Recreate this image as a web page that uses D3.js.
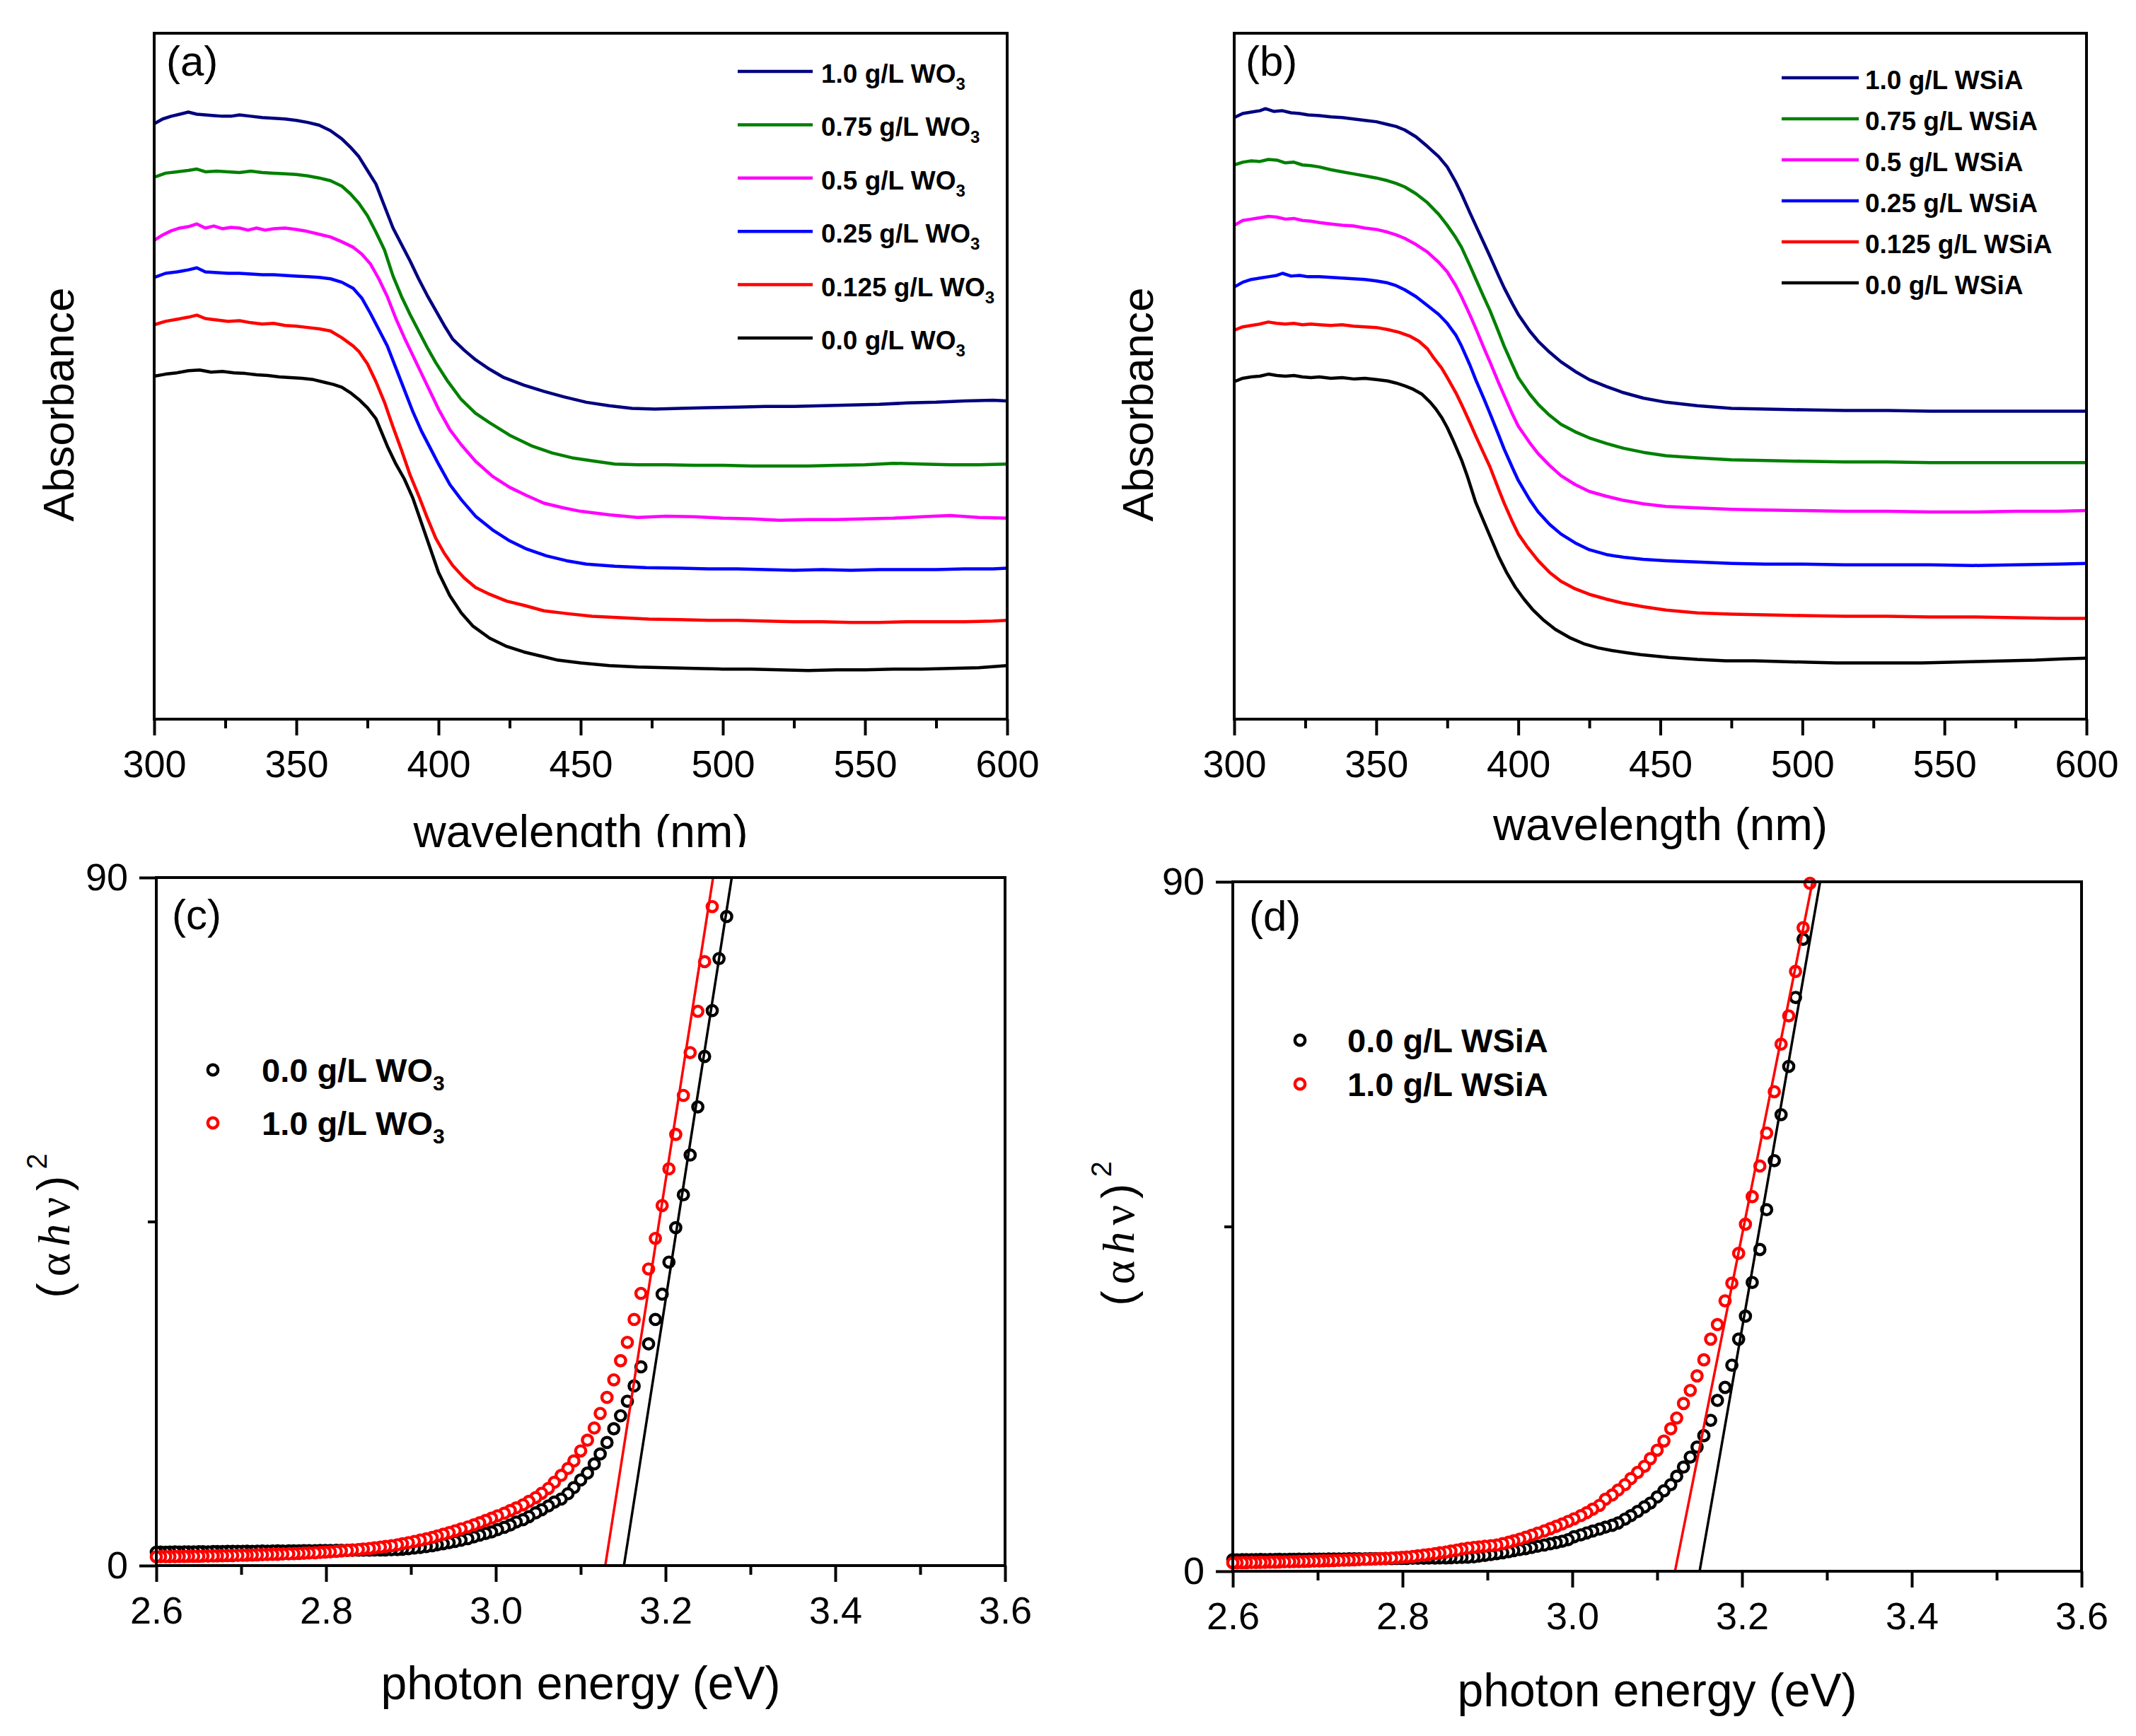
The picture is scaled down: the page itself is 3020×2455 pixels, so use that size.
<!DOCTYPE html>
<html>
<head>
<meta charset="utf-8">
<script src="https://cdn.jsdelivr.net/npm/d3@7"></script>
<style>
  body { margin: 0; background: #fff; }
  svg { display: block; font-family: "Liberation Sans", Arial, sans-serif; }
  .frame { fill: none; stroke: #000; stroke-width: 4; }
  .axis .domain { display: none; }
  .axis line { stroke: #000; stroke-width: 4; }
  .axis text { font-size: 54px; fill: #000; font-family: "Liberation Sans", Arial, sans-serif; }
  .spec { fill: none; stroke-width: 4.5; stroke-linejoin: round; }
  .fit { fill: none; stroke-width: 3.5; }
  .title { font-size: 64px; fill: #000; }
  .tag { font-size: 60px; fill: #000; }
  .leg { font-weight: bold; fill: #000; }
</style>
</head>
<body>
<svg id="fig"></svg>
<script>
// ---- tick values ----
const nmTicks = [300, 350, 400, 450, 500, 550, 600];
const nmMinor = [325, 375, 425, 475, 525, 575];
const evTicks = [2.6, 2.8, 3.0, 3.2, 3.4, 3.6];
const evMinor = [2.7, 2.9, 3.1, 3.3, 3.5];
const taucTicks = [0, 90];
const taucMinor = [45];

// ---- legend labels (top to bottom) ----
const loadings = ['1.0', '0.75', '0.5', '0.25', '0.125', '0.0'];
const taucLoadings = ['0.0', '1.0'];
const lineColors = ['#000080', '#008000', '#ff00ff', '#0000ff', '#ff0000', '#000000'];
const markerColors = ['#000000', '#ff0000'];

// ---- (a) absorbance spectra, WO3 loadings: [wavelength nm, absorbance a.u.] ----
const wo3_1_0 = [[300,.868],[303,.875],[306,.879],[309,.882],[312,.885],[315,.882],[318,.881],[321,.880],[324,.879],[327,.879],[330,.881],[334,.879],[338,.877],[342,.876],[346,.875],[350,.873],[354,.870],[358,.866],[362,.858],[366,.846],[369,.834],[372,.820],[375,.800],[378,.780],[381,.748],[384,.716],[387,.692],[390,.668],[393,.642],[396,.618],[399,.596],[402,.574],[405,.554],[409,.538],[413,.524],[418,.510],[423,.498],[430,.487],[437,.478],[444,.470],[452,.462],[460,.457],[468,.453],[476,.452],[485,.453],[495,.454],[505,.455],[515,.456],[525,.456],[535,.457],[545,.458],[555,.459],[565,.461],[575,.462],[585,.464],[595,.465],[600,.464]];
const wo3_0_75 = [[300,.790],[304,.796],[308,.798],[312,.800],[315,.802],[318,.798],[322,.799],[326,.798],[330,.797],[334,.799],[338,.797],[342,.796],[346,.795],[350,.794],[354,.792],[358,.789],[362,.785],[366,.777],[369,.766],[372,.752],[375,.734],[378,.710],[381,.684],[384,.646],[387,.616],[390,.590],[393,.566],[396,.542],[399,.520],[403,.494],[408,.466],[413,.446],[418,.432],[425,.414],[433,.398],[440,.388],[447,.381],[455,.376],[462,.372],[470,.371],[480,.371],[490,.370],[500,.370],[510,.369],[520,.369],[530,.369],[540,.370],[550,.371],[560,.373],[570,.372],[580,.371],[590,.371],[600,.372]];
const wo3_0_5 = [[300,.698],[303,.706],[306,.712],[309,.716],[312,.718],[315,.722],[318,.716],[321,.719],[324,.715],[327,.717],[330,.716],[333,.713],[336,.716],[339,.713],[342,.715],[346,.716],[350,.714],[354,.711],[358,.707],[362,.703],[366,.696],[370,.688],[373,.678],[376,.664],[379,.642],[382,.616],[385,.584],[388,.556],[391,.530],[394,.504],[397,.478],[400,.452],[404,.422],[408,.400],[413,.376],[419,.354],[425,.338],[431,.326],[437,.315],[444,.308],[450,.303],[460,.298],[470,.294],[480,.296],[490,.295],[500,.293],[510,.292],[520,.290],[530,.291],[540,.291],[550,.292],[560,.293],[570,.295],[580,.297],[590,.294],[600,.293]];
const wo3_0_25 = [[300,.644],[304,.650],[308,.652],[312,.655],[315,.658],[318,.652],[322,.651],[326,.650],[330,.650],[334,.649],[338,.648],[342,.648],[346,.647],[350,.646],[354,.645],[358,.644],[362,.642],[366,.637],[370,.628],[373,.614],[376,.592],[379,.568],[382,.544],[385,.512],[388,.480],[391,.448],[394,.420],[397,.396],[400,.372],[404,.342],[408,.320],[413,.296],[419,.276],[425,.260],[431,.248],[438,.238],[445,.231],[452,.226],[462,.223],[473,.221],[485,.220],[495,.219],[505,.219],[515,.218],[525,.217],[535,.218],[545,.217],[555,.218],[565,.218],[575,.218],[585,.219],[595,.219],[600,.220]];
const wo3_0_125 = [[300,.575],[304,.580],[308,.583],[312,.586],[315,.589],[318,.584],[322,.582],[326,.580],[330,.581],[334,.578],[338,.576],[342,.577],[346,.574],[350,.573],[354,.571],[358,.569],[362,.566],[366,.556],[370,.544],[372,.536],[375,.518],[378,.492],[381,.462],[384,.426],[387,.392],[390,.356],[393,.326],[396,.294],[399,.264],[402,.242],[405,.224],[409,.206],[413,.192],[418,.182],[424,.172],[430,.166],[437,.158],[445,.154],[454,.150],[464,.148],[474,.146],[485,.145],[495,.144],[505,.144],[515,.143],[525,.142],[535,.142],[545,.141],[555,.141],[565,.142],[575,.142],[585,.142],[595,.143],[600,.144]];
const wo3_0_0 = [[300,.500],[304,.503],[308,.505],[312,.508],[316,.509],[320,.506],[324,.507],[328,.505],[332,.504],[336,.502],[340,.501],[344,.499],[348,.498],[352,.497],[356,.495],[360,.491],[363,.488],[366,.484],[369,.476],[372,.466],[375,.454],[378,.438],[382,.398],[385,.372],[388,.350],[391,.322],[394,.286],[397,.250],[400,.214],[404,.180],[408,.155],[412,.136],[418,.118],[424,.106],[430,.098],[436,.092],[442,.086],[450,.082],[460,.078],[470,.076],[480,.075],[490,.074],[500,.073],[510,.073],[520,.072],[530,.071],[540,.072],[550,.072],[560,.073],[570,.073],[580,.074],[590,.075],[600,.078]];

// ---- (b) absorbance spectra, WSiA loadings ----
const wsia_1_0 = [[300,.877],[303,.883],[306,.885],[309,.887],[311,.890],[314,.886],[317,.887],[320,.884],[323,.883],[326,.881],[330,.880],[334,.878],[338,.877],[342,.875],[346,.873],[350,.871],[354,.867],[357,.864],[360,.859],[364,.849],[368,.835],[372,.820],[375,.805],[378,.783],[380,.766],[383,.738],[385,.720],[388,.693],[390,.675],[393,.647],[395,.629],[398,.605],[400,.590],[404,.566],[407,.551],[411,.535],[415,.521],[420,.507],[425,.495],[431,.485],[437,.476],[444,.468],[452,.462],[463,.457],[475,.453],[487,.452],[500,.451],[515,.450],[530,.450],[545,.449],[560,.449],[575,.449],[590,.449],[600,.449]];
const wsia_0_75 = [[300,.808],[303,.812],[306,.814],[309,.813],[312,.816],[315,.815],[318,.811],[321,.812],[324,.808],[327,.807],[330,.805],[334,.801],[338,.798],[342,.795],[346,.792],[350,.789],[354,.785],[357,.781],[360,.776],[364,.766],[368,.753],[372,.736],[375,.720],[378,.702],[380,.688],[383,.661],[385,.642],[388,.614],[390,.596],[393,.565],[395,.544],[398,.516],[400,.498],[404,.474],[407,.459],[411,.443],[415,.430],[420,.419],[425,.410],[431,.402],[437,.395],[444,.389],[452,.384],[463,.381],[475,.378],[487,.377],[500,.376],[515,.375],[530,.375],[545,.374],[560,.374],[575,.374],[590,.374],[600,.374]];
const wsia_0_5 = [[300,.720],[303,.727],[306,.729],[309,.731],[312,.733],[315,.732],[318,.729],[321,.730],[324,.727],[327,.726],[330,.724],[334,.722],[338,.720],[342,.719],[346,.716],[350,.714],[354,.710],[357,.706],[360,.701],[364,.692],[368,.681],[372,.666],[375,.652],[378,.632],[380,.616],[383,.589],[385,.570],[388,.540],[390,.521],[393,.491],[395,.472],[398,.444],[400,.427],[404,.403],[407,.387],[411,.370],[415,.355],[420,.342],[425,.332],[431,.325],[437,.319],[444,.314],[452,.310],[463,.308],[475,.306],[487,.305],[500,.304],[515,.303],[530,.303],[545,.302],[560,.302],[575,.303],[590,.303],[600,.304]];
const wsia_0_25 = [[300,.630],[303,.637],[306,.641],[309,.643],[312,.645],[315,.647],[317,.650],[320,.646],[323,.647],[326,.645],[330,.645],[334,.644],[338,.643],[342,.642],[346,.641],[350,.639],[354,.636],[357,.632],[360,.626],[364,.616],[368,.603],[372,.590],[375,.577],[378,.560],[380,.544],[383,.516],[385,.495],[388,.466],[390,.446],[393,.415],[395,.394],[398,.366],[400,.348],[404,.320],[407,.302],[411,.284],[415,.270],[420,.257],[425,.247],[431,.240],[437,.236],[444,.233],[452,.231],[463,.229],[475,.227],[487,.226],[500,.226],[515,.225],[530,.225],[545,.225],[560,.224],[575,.225],[590,.226],[600,.227]];
const wsia_0_125 = [[300,.567],[303,.572],[306,.574],[309,.576],[312,.579],[315,.577],[318,.576],[321,.577],[324,.575],[327,.576],[330,.575],[334,.574],[338,.575],[342,.573],[346,.572],[350,.571],[354,.568],[358,.564],[362,.558],[365,.551],[368,.540],[370,.528],[373,.512],[375,.498],[378,.476],[380,.459],[383,.432],[385,.413],[388,.386],[390,.368],[393,.336],[395,.315],[398,.287],[400,.270],[403,.252],[407,.231],[411,.214],[415,.201],[420,.190],[425,.182],[431,.175],[437,.169],[444,.164],[452,.159],[463,.155],[475,.153],[487,.152],[500,.151],[515,.150],[530,.150],[545,.149],[560,.149],[575,.148],[590,.147],[600,.147]];
const wsia_0_0 = [[300,.492],[303,.497],[306,.499],[309,.500],[312,.503],[315,.501],[318,.500],[321,.501],[324,.499],[327,.498],[330,.499],[334,.497],[338,.498],[342,.496],[346,.497],[350,.495],[354,.493],[357,.490],[360,.486],[363,.481],[366,.474],[369,.462],[371,.452],[373,.440],[375,.425],[377,.407],[380,.378],[382,.355],[385,.316],[389,.277],[393,.238],[396,.213],[399,.192],[402,.175],[405,.160],[409,.144],[413,.131],[418,.119],[423,.110],[428,.104],[433,.100],[438,.097],[443,.094],[448,.092],[453,.090],[463,.087],[473,.085],[483,.085],[492,.084],[502,.083],[512,.082],[522,.082],[532,.082],[542,.082],[552,.083],[562,.084],[572,.085],[582,.086],[592,.088],[600,.089]];

// ---- (c)/(d) Tauc plots: photon energy (eV) of each sample, and (alpha h nu)^2 values ----
const photonEnergy = [2.600,2.605,2.611,2.616,2.622,2.627,2.633,2.638,2.644,2.650,2.655,2.661,2.667,2.672,2.678,2.684,2.690,2.696,2.702,2.707,2.713,2.719,2.725,2.731,2.737,2.743,2.749,2.756,2.762,2.768,2.774,2.780,2.787,2.793,2.799,2.805,2.812,2.818,2.825,2.831,2.838,2.844,2.851,2.857,2.864,2.870,2.877,2.884,2.890,2.897,2.904,2.911,2.918,2.925,2.931,2.938,2.945,2.952,2.959,2.967,2.974,2.981,2.988,2.995,3.002,3.010,3.017,3.024,3.032,3.039,3.047,3.054,3.062,3.069,3.077,3.085,3.092,3.100,3.108,3.116,3.123,3.131,3.139,3.147,3.155,3.163,3.171,3.180,3.188,3.196,3.204,3.212,3.221,3.229,3.238,3.246,3.255,3.263,3.272,3.280,3.289];

const taucWo3_0_0 = [1.75,1.76,1.74,1.77,1.78,1.76,1.79,1.80,1.79,1.81,1.82,1.80,1.83,1.84,1.83,1.85,1.86,1.85,1.87,1.88,1.87,1.89,1.90,1.89,1.91,1.92,1.91,1.93,1.94,1.93,1.95,1.96,1.95,1.97,1.98,1.97,1.99,2.00,1.99,2.01,2.02,2.02,2.03,2.04,2.05,2.06,2.08,
  2.10,2.15,2.22,2.30,2.38,2.48,2.60,2.72,2.86,3.00,3.15,3.32,3.52,3.75,3.98,4.20,4.40,
  4.7,5.0,5.3,5.7,6.0,6.4,6.9,7.3,7.8,8.3,8.7,9.4,10.2,11.2,12.1,13.3,14.6,16.1,17.9,19.6,21.5,23.5,26.0,29.0,32.2,35.5,39.7,44.2,48.5,53.7,60.0,66.6,72.6,79.4,84.9];
const taucWo3_1_0 = [1.15,1.16,1.17,1.17,1.18,1.19,1.20,1.21,1.22,1.22,1.24,1.25,1.26,1.27,1.29,1.30,1.31,1.33,1.35,1.36,1.38,1.40,1.42,1.44,1.46,1.48,1.51,1.53,1.56,1.59,1.62,1.65,1.68,1.72,1.76,1.80,1.86,
  1.92,1.98,2.04,2.10,2.17,2.24,2.32,2.41,2.50,2.60,2.72,
  2.86,3.00,3.16,3.33,3.50,3.68,3.88,4.10,4.32,4.55,4.80,5.06,5.32,5.60,5.90,6.20,
  6.50,6.85,7.20,7.55,7.95,8.40,8.90,9.45,10.1,10.9,11.8,12.7,13.7,15.0,16.4,18.0,19.9,22.0,24.3,26.8,29.2,32.2,35.6,38.8,42.8,47.1,51.9,56.4,61.5,67.1,72.5,79.0,86.2];
const taucWsia_0_0 = [1.50,1.49,1.51,1.50,1.52,1.51,1.53,1.52,1.54,1.53,1.55,1.54,1.56,1.55,1.57,1.56,1.58,1.57,1.59,1.58,1.60,1.60,1.61,1.61,1.62,1.62,1.63,1.63,1.64,1.64,1.65,1.66,1.66,1.67,1.68,1.68,1.69,1.70,1.71,1.72,1.73,1.74,1.75,1.77,1.79,1.81,1.84,
  1.88,1.97,2.07,2.18,2.30,2.42,2.55,2.69,2.82,2.95,3.10,3.26,3.42,3.58,3.74,3.92,4.12,
  4.5,4.75,5.0,5.25,5.5,5.75,6.0,6.3,6.8,7.25,7.8,8.4,8.9,9.7,10.5,11.3,12.4,13.6,14.9,16.2,17.7,19.7,22.3,24.0,26.9,30.3,33.3,37.7,42.0,47.2,53.6,59.6,65.9,74.9,82.5];
const taucWsia_1_0 = [1.10,1.11,1.12,1.13,1.14,1.15,1.16,1.17,1.19,1.20,1.21,1.23,1.24,1.26,1.27,1.29,1.31,1.32,1.34,1.36,1.38,1.40,1.42,1.44,1.47,1.49,1.52,1.55,1.58,1.61,1.64,1.68,1.72,1.76,1.80,1.86,1.93,2.01,2.10,2.19,2.29,2.40,2.51,2.63,2.76,2.89,3.02,
  3.11,3.18,3.26,3.34,3.42,3.60,3.79,3.98,4.19,4.44,4.70,4.97,5.26,5.56,5.86,6.17,6.50,
  6.85,7.25,7.65,8.1,8.6,9.4,9.95,10.6,11.3,12.1,12.9,13.7,14.7,15.8,17.0,18.6,20.0,21.9,23.6,25.5,27.6,30.3,32.2,35.3,37.6,41.5,45.3,48.9,52.9,57.2,62.6,68.8,72.5,78.3,84.0,89.8];

// ---- linear fits: [energy, value] end points ----
const fitWo3_0_0 = [[3.151, 0], [3.278, 90]];
const fitWo3_1_0 = [[3.129, 0], [3.256, 90]];
const fitWsia_0_0 = [[3.150, 0], [3.292, 90]];
const fitWsia_1_0 = [[3.121, 0], [3.283, 90]];

const W = 3020, H = 2455;
const MARK_R = 7.2, MARK_W = 4.4;
const svg = d3.select('#fig').attr('width', W).attr('height', H).attr('viewBox', `0 0 ${W} ${H}`);

svg.append('defs').append('clipPath').attr('id', 'clipA')
  .append('rect').attr('x', 0).attr('y', 0).attr('width', 1560).attr('height', 1198);

function bottomAxis(g, x, h, major, minor, fmt) {
  g.append('g').attr('class', 'axis').attr('transform', `translate(0,${h})`)
    .call(d3.axisBottom(x).tickValues(major).tickSize(23).tickFormat(fmt))
    .call(a => a.selectAll('text').attr('y', 82).attr('dy', null));
  g.append('g').attr('class', 'axis').attr('transform', `translate(0,${h})`)
    .call(d3.axisBottom(x).tickValues(minor).tickSize(13).tickFormat(''));
}

function rotatedTitle(cx, cy, size) {
  return svg.append('text').attr('class', 'title')
    .attr('transform', `translate(${cx},${cy}) rotate(-90)`)
    .attr('text-anchor', 'middle').style('font-size', size + 'px');
}

function legendLabel(sel, text, sub, subSize, subDy) {
  sel.append('tspan').text(text);
  if (sub) sel.append('tspan').style('font-size', subSize + 'px').attr('dy', subDy).text(sub);
}

/* Absorbance spectra panel */
function spectraPanel(p) {
  const w = p.right - p.left, h = p.bottom - p.top;
  const g = svg.append('g').attr('transform', `translate(${p.left},${p.top})`);
  const x = d3.scaleLinear().domain([300, 600]).range([0, w]);
  const y = d3.scaleLinear().domain([0, 1]).range([h, 0]);
  const line = d3.line().x(d => x(d[0])).y(d => y(d[1]));

  g.selectAll('.spec').data(p.series).join('path')
    .attr('class', 'spec')
    .attr('d', line)
    .attr('stroke', (d, i) => lineColors[i]);

  g.append('rect').attr('class', 'frame').attr('width', w).attr('height', h);
  bottomAxis(g, x, h, nmTicks, nmMinor, d3.format('d'));

  // legend
  loadings.forEach((l, i) => {
    const ly = p.legY + i * p.legDy;
    svg.append('line').attr('x1', p.legX1).attr('x2', p.legX2).attr('y1', ly).attr('y2', ly)
      .attr('stroke', lineColors[i]).attr('stroke-width', 4.5);
    const t = svg.append('text').attr('class', 'leg').attr('x', p.legTx).attr('y', ly + 16)
      .style('font-size', '37px');
    legendLabel(t, `${l} g/L ${p.agent}`, p.sub, 24, 10);
  });

  svg.append('text').attr('class', 'tag').attr('x', p.tagX).attr('y', 107).text(p.tag);

  rotatedTitle(p.yTitleX, 572, 62).text('Absorbance');

  const xt = svg.append('text').attr('class', 'title')
    .attr('x', (p.left + p.right) / 2).attr('y', p.xTitleY)
    .attr('text-anchor', 'middle').text('wavelength (nm)');
  if (p.clip) xt.attr('clip-path', `url(#${p.clip})`);
}

/* Tauc plot panel */
function taucPanel(p) {
  const w = p.right - p.left, h = p.bottom - p.top;
  const g = svg.append('g').attr('transform', `translate(${p.left},${p.top})`);
  const x = d3.scaleLinear().domain([2.6, 3.6]).range([0, w]);
  const y = d3.scaleLinear().domain([0, 90]).range([h, 0]);

  p.series.forEach((vals, si) => {
    // drawn from high to low energy, the way the spectrum was recorded
    const pts = vals.map((v, i) => [photonEnergy[i], v]).reverse();
    g.append('g').selectAll('circle').data(pts).join('circle')
      .attr('cx', d => x(d[0])).attr('cy', d => y(d[1])).attr('r', MARK_R)
      .attr('fill', '#fff').attr('stroke', markerColors[si]).attr('stroke-width', MARK_W);
  });

  const line = d3.line().x(d => x(d[0])).y(d => y(d[1]));
  g.selectAll('.fit').data(p.fits).join('path')
    .attr('class', 'fit').attr('d', line)
    .attr('stroke', (d, i) => markerColors[i]);

  g.append('rect').attr('class', 'frame').attr('width', w).attr('height', h);
  bottomAxis(g, x, h, evTicks, evMinor, d3.format('.1f'));
  g.append('g').attr('class', 'axis')
    .call(d3.axisLeft(y).tickValues(taucTicks).tickSize(24).tickPadding(16).tickFormat(d3.format('d')));
  g.append('g').attr('class', 'axis')
    .call(d3.axisLeft(y).tickValues(taucMinor).tickSize(12).tickFormat(''));

  taucLoadings.forEach((l, i) => {
    const ly = p.legY + i * p.legDy;
    svg.append('circle').attr('cx', p.legMx).attr('cy', ly).attr('r', MARK_R)
      .attr('fill', '#fff').attr('stroke', markerColors[i]).attr('stroke-width', MARK_W);
    const t = svg.append('text').attr('class', 'leg').attr('x', p.legTx).attr('y', ly + 17)
      .style('font-size', '47px');
    legendLabel(t, `${l} g/L ${p.agent}`, p.sub, 30, 12);
  });

  svg.append('text').attr('class', 'tag').attr('x', p.tagX).attr('y', p.tagY).text(p.tag);

  const yl = rotatedTitle(p.yTitleX, p.yTitleY, 64).style('letter-spacing', '9px');
  yl.append('tspan').text('(');
  yl.append('tspan').style('font-family', '"Liberation Serif", serif').text('α');
  yl.append('tspan').style('font-family', '"Liberation Serif", serif').style('font-style', 'italic').text('h');
  yl.append('tspan').style('font-family', '"Liberation Serif", serif').text('ν');
  yl.append('tspan').text(')');
  yl.append('tspan').style('font-size', '40px').attr('dy', -32).text('2');

  svg.append('text').attr('class', 'title').style('font-size', '66px')
    .attr('x', (p.left + p.right) / 2).attr('y', p.xTitleY)
    .attr('text-anchor', 'middle').text('photon energy (eV)');
}

spectraPanel({
  left: 218, top: 47, right: 1424, bottom: 1017,
  series: [wo3_1_0, wo3_0_75, wo3_0_5, wo3_0_25, wo3_0_125, wo3_0_0],
  agent: 'WO', sub: '3',
  legX1: 1043, legX2: 1149, legTx: 1161, legY: 101, legDy: 75.4,
  tag: '(a)', tagX: 235, yTitleX: 104, xTitleY: 1198, clip: 'clipA'
});

spectraPanel({
  left: 1745, top: 47, right: 2950, bottom: 1017,
  series: [wsia_1_0, wsia_0_75, wsia_0_5, wsia_0_25, wsia_0_125, wsia_0_0],
  agent: 'WSiA', sub: null,
  legX1: 2519, legX2: 2628, legTx: 2637, legY: 110, legDy: 58,
  tag: '(b)', tagX: 1761, yTitleX: 1630, xTitleY: 1188
});

taucPanel({
  left: 221, top: 1241, right: 1421, bottom: 2214,
  series: [taucWo3_0_0, taucWo3_1_0], fits: [fitWo3_0_0, fitWo3_1_0],
  agent: 'WO', sub: '3', legMx: 301, legTx: 370, legY: 1513, legDy: 75,
  tag: '(c)', tagX: 243, tagY: 1314, yTitleX: 98, yTitleY: 1729, xTitleY: 2403
});

taucPanel({
  left: 1743, top: 1247, right: 2943, bottom: 2222,
  series: [taucWsia_0_0, taucWsia_1_0], fits: [fitWsia_0_0, fitWsia_1_0],
  agent: 'WSiA', sub: null, legMx: 1838, legTx: 1905, legY: 1471, legDy: 62,
  tag: '(d)', tagX: 1766, tagY: 1316, yTitleX: 1603, yTitleY: 1740, xTitleY: 2413
});
</script>
</body>
</html>
